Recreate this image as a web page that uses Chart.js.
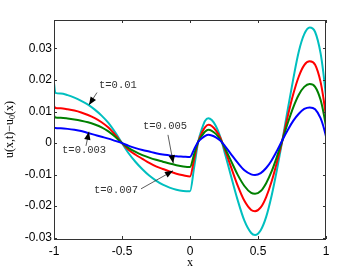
<!DOCTYPE html>
<html>
<head>
<meta charset="utf-8">
<script src="https://cdn.jsdelivr.net/npm/chart.js@4"></script>
<style>
  html, body { margin: 0; padding: 0; background: #fff; }
  #wrap { width: 360px; height: 271px; }
</style>
</head>
<body>
<div id="wrap"><canvas id="chart"></canvas></div>
<script>
// x positions of the samples
const xs = [-1, -0.99, -0.95, -0.9, -0.85, -0.8, -0.75, -0.7, -0.65, -0.6, -0.55, -0.5,
  -0.45, -0.4, -0.35, -0.3, -0.25, -0.2, -0.15, -0.1, -0.05, 0,
  0.03, 0.06, 0.09, 0.11, 0.135, 0.16, 0.19, 0.225, 0.26, 0.3, 0.35, 0.4, 0.45, 0.478,
  0.52, 0.56, 0.6, 0.64, 0.68, 0.72, 0.76, 0.8, 0.84, 0.88, 0.92, 0.96, 0.98, 1];

// u(x,t) - u0(x) for each time
const t010 = [0.019, 0.0159, 0.0157, 0.0152, 0.0144, 0.0134, 0.0122, 0.0106, 0.0087, 0.0064, 0.0034, 0.0,
  -0.0033, -0.0060, -0.0083, -0.0103, -0.0119, -0.0132, -0.0141, -0.0148, -0.0152, -0.0153,
  -0.0078, 0.0003, 0.0048, 0.0070, 0.0079, 0.0073, 0.0054, 0.0017, -0.0038, -0.0102, -0.0180, -0.0246, -0.0285, -0.0291,
  -0.0276, -0.0234, -0.0167, -0.0083, 0.0010, 0.0110, 0.0205, 0.0290, 0.0345, 0.0366, 0.0352, 0.0285, 0.0225, 0.0148];
const t007 = [0.0118, 0.0111, 0.0110, 0.0107, 0.0103, 0.0097, 0.0089, 0.0079, 0.0066, 0.0049, 0.0026, 0.0,
  -0.0022, -0.0037, -0.0050, -0.0063, -0.0074, -0.0082, -0.0090, -0.0097, -0.0102, -0.0106,
  -0.0052, 0.0004, 0.0035, 0.0050, 0.0058, 0.0054, 0.0040, 0.0015, -0.0025, -0.0074, -0.0134, -0.0183, -0.0212, -0.0216,
  -0.0204, -0.0171, -0.0122, -0.0059, 0.0010, 0.0087, 0.0156, 0.0211, 0.0247, 0.0259, 0.0248, 0.0194, 0.0146, 0.0084];
const t005 = [0.0087, 0.0081, 0.0080, 0.0078, 0.0075, 0.0071, 0.0066, 0.0059, 0.0050, 0.0037, 0.0020, 0.0,
  -0.0016, -0.0028, -0.0038, -0.0046, -0.0053, -0.0059, -0.0065, -0.0070, -0.0074, -0.0076,
  -0.0036, 0.0004, 0.0025, 0.0036, 0.0042, 0.0039, 0.0029, 0.0010, -0.0019, -0.0055, -0.0100, -0.0136, -0.0158, -0.0161,
  -0.0152, -0.0127, -0.0090, -0.0042, 0.0010, 0.0065, 0.0114, 0.0153, 0.0178, 0.0187, 0.0178, 0.0137, 0.0100, 0.0053];
const t003 = [0.0050, 0.0048, 0.0047, 0.0045, 0.0042, 0.0038, 0.0032, 0.0026, 0.0020, 0.0014, 0.0007, 0.0,
  -0.0009, -0.0016, -0.0022, -0.0027, -0.0032, -0.0036, -0.0039, -0.0042, -0.0043, -0.0044,
  -0.0020, 0.0004, 0.0016, 0.0022, 0.0026, 0.0024, 0.0018, 0.0007, -0.0011, -0.0034, -0.0062, -0.0086, -0.0099, -0.0101,
  -0.0095, -0.0079, -0.0055, -0.0024, 0.0010, 0.0042, 0.0071, 0.0093, 0.0108, 0.0113, 0.0107, 0.0079, 0.0054, 0.0021];

const xTicks = [-1, -0.5, 0, 0.5, 1];
const yTicks = [-0.03, -0.02, -0.01, 0, 0.01, 0.02, 0.03];

// text labels with arrows, in data coordinates
const notes = [
  { text: 't=0.01',  at: [-0.669, 0.0182],  from: [-0.684, 0.0160],  to: [-0.743, 0.0121] },
  { text: 't=0.005', at: [-0.346, 0.0052],  from: [-0.162, 0.0026],  to: [-0.123, -0.0064] },
  { text: 't=0.003', at: [-0.941, -0.0024], from: [-0.765, -0.0009], to: [-0.743, 0.0036] },
  { text: 't=0.007', at: [-0.706, -0.0148], from: [-0.360, -0.0145], to: [-0.125, -0.0088] }
];

const pts = ys => xs.map((x, i) => ({ x, y: ys[i] }));
const line = (data, color) => ({
  data: pts(data),
  borderColor: color,
  borderWidth: 2,
  pointRadius: 0,
  fill: false,
  cubicInterpolationMode: 'monotone'
});

// MATLAB-like box with inward ticks, axis titles and arrows
const decor = {
  id: 'decor',
  afterDraw(chart) {
    const { ctx, chartArea: a, scales: { x, y } } = chart;
    ctx.save();
    ctx.strokeStyle = '#333';
    ctx.lineWidth = 1;
    ctx.strokeRect(a.left + 0.5, a.top + 0.5, a.right - a.left - 1, a.bottom - a.top);
    ctx.beginPath();
    xTicks.forEach(v => {
      const px = Math.round(x.getPixelForValue(v)) + 0.5;
      ctx.moveTo(px, a.bottom); ctx.lineTo(px, a.bottom - 3);
      ctx.moveTo(px, a.top); ctx.lineTo(px, a.top + 3);
    });
    yTicks.forEach(v => {
      const py = Math.round(y.getPixelForValue(v)) + 0.5;
      ctx.moveTo(a.left, py); ctx.lineTo(a.left + 3, py);
      ctx.moveTo(a.right, py); ctx.lineTo(a.right - 3, py);
    });
    ctx.stroke();

    // axis titles
    ctx.fillStyle = '#000';
    ctx.font = '12px "Liberation Serif"';
    ctx.textAlign = 'center';
    ctx.textBaseline = 'middle';
    ctx.fillText('x', (a.left + a.right) / 2, 263);

    ctx.translate(10, (a.top + a.bottom) / 2);
    ctx.rotate(-Math.PI / 2);
    const p1 = 'u(x,t)\u2212u', p2 = '0', p3 = '(x)';
    ctx.font = '12px "Liberation Serif"';
    const w1 = ctx.measureText(p1).width, w3 = ctx.measureText(p3).width;
    ctx.font = '8px "Liberation Serif"';
    const w2 = ctx.measureText(p2).width;
    let cx = -(w1 + w2 + w3) / 2;
    ctx.textAlign = 'left';
    ctx.font = '12px "Liberation Serif"';
    ctx.fillText(p1, cx, 0); cx += w1;
    ctx.font = '8px "Liberation Serif"';
    ctx.fillText(p2, cx, 3); cx += w2;
    ctx.font = '12px "Liberation Serif"';
    ctx.fillText(p3, cx, 0);
    ctx.setTransform(1, 0, 0, 1, 0, 0);

    // annotations
    notes.forEach(n => {
      ctx.fillStyle = '#333';
      ctx.font = '10.5px "Liberation Mono"';
      ctx.textAlign = 'left';
      ctx.textBaseline = 'middle';
      ctx.fillText(n.text, x.getPixelForValue(n.at[0]), y.getPixelForValue(n.at[1]));
      const x1 = x.getPixelForValue(n.from[0]), y1 = y.getPixelForValue(n.from[1]);
      const x2 = x.getPixelForValue(n.to[0]), y2 = y.getPixelForValue(n.to[1]);
      const ang = Math.atan2(y2 - y1, x2 - x1);
      ctx.strokeStyle = '#333';
      ctx.lineWidth = 0.8;
      ctx.beginPath(); ctx.moveTo(x1, y1); ctx.lineTo(x2, y2); ctx.stroke();
      ctx.fillStyle = '#000';
      ctx.beginPath();
      ctx.moveTo(x2, y2);
      ctx.lineTo(x2 - 8 * Math.cos(ang) + 3.2 * Math.sin(ang), y2 - 8 * Math.sin(ang) - 3.2 * Math.cos(ang));
      ctx.lineTo(x2 - 8 * Math.cos(ang) - 3.2 * Math.sin(ang), y2 - 8 * Math.sin(ang) + 3.2 * Math.cos(ang));
      ctx.closePath();
      ctx.fill();
    });
    ctx.restore();
  }
};

new Chart(document.getElementById('chart'), {
  type: 'line',
  data: {
    datasets: [
      line(t003, '#0000ff'),
      line(t005, '#008000'),
      line(t007, '#ff0000'),
      line(t010, '#00bfbf')
    ]
  },
  options: {
    responsive: true,
    maintainAspectRatio: false,
    animation: false,
    layout: { padding: { top: 20, right: 34, left: 0, bottom: 0 } },
    plugins: { legend: { display: false }, tooltip: { enabled: false } },
    scales: {
      x: {
        type: 'linear',
        min: -1, max: 1,
        afterFit: s => { s.height = 32; },
        afterBuildTicks: s => { s.ticks = xTicks.map(v => ({ value: v })); },
        grid: { display: false, drawTicks: false },
        border: { display: false },
        ticks: { color: '#000', padding: 5, maxRotation: 0, font: { family: '"Liberation Sans"', size: 12 },
          callback: v => String(v) }
      },
      y: {
        type: 'linear',
        min: -0.0304, max: 0.039,
        afterFit: s => { s.width = 54; },
        afterBuildTicks: s => { s.ticks = yTicks.map(v => ({ value: v })); },
        grid: { display: false, drawTicks: false },
        border: { display: false },
        ticks: { color: '#000', padding: 2, font: { family: '"Liberation Sans"', size: 12 },
          callback: v => String(Math.round(v * 100) / 100) }
      }
    }
  },
  plugins: [decor]
});
</script>
</body>
</html>
